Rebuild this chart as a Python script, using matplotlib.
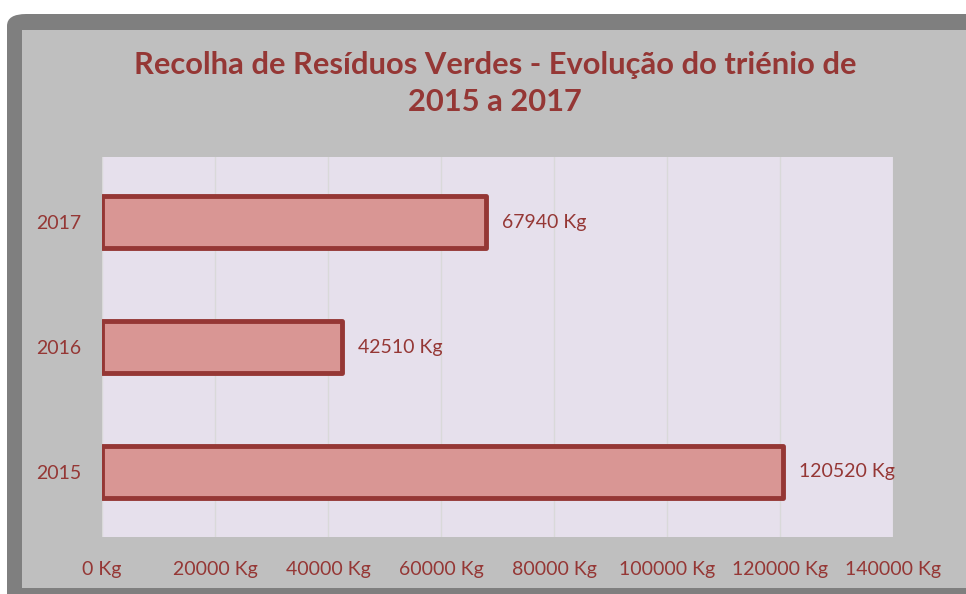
import matplotlib.pyplot as plt
from matplotlib.patches import FancyBboxPatch, Rectangle

plt.rcParams['font.family'] = ['Lato', 'DejaVu Sans']

# Data
years = ['2015', '2016', '2017']
recolha_kg = [120520, 42510, 67940]
x_ticks = [0, 20000, 40000, 60000, 80000, 100000, 120000, 140000]
x_tick_labels = [f'{v} Kg' for v in x_ticks]

red_dark = '#953735'
bar_fill = '#d99694'

fig = plt.figure(figsize=(9.66, 5.94), dpi=100)
fig.patch.set_facecolor('white')

# Frame: dark border with rounded corner and light gray inner area (pixel coords)
W, H = 966, 594
frame = FancyBboxPatch((7 / W, -0.1), 1.2, (594 - 14) / H + 0.1,
                       boxstyle='round,pad=0,rounding_size=0.02',
                       transform=fig.transFigure, facecolor='#7f7f7f',
                       edgecolor='none', zorder=0)
fig.patches.append(frame)
inner = Rectangle((22 / W, (594 - 588) / H), 1.0, (588 - 30) / H,
                  transform=fig.transFigure, facecolor='#bfbfbf',
                  edgecolor='none', zorder=0.5)
fig.patches.append(inner)

ax = fig.add_axes([102 / W, (594 - 537) / H, (893 - 102) / W, (537 - 157) / H])
ax.set_zorder(2)
ax.set_facecolor('#e6e0ec')

ypos = range(len(years))
ax.barh(ypos, recolha_kg, height=0.41, color=bar_fill, edgecolor=red_dark,
        linewidth=3.5, joinstyle='round', zorder=3)

for y, v in zip(ypos, recolha_kg):
    ax.annotate(f'{v} Kg', xy=(v, y), xytext=(11.5, 0), textcoords='offset points',
                va='center', ha='left', color=red_dark, fontsize=14, zorder=4)

ax.set_xlim(0, 140000)
ax.set_ylim(-0.52, 2.52)
ax.set_xticks(x_ticks)
ax.set_xticklabels(x_tick_labels)
ax.set_yticks(list(ypos))
ax.set_yticklabels(years)
ax.tick_params(axis='x', length=0, pad=17, labelsize=14, labelcolor=red_dark)
ax.tick_params(axis='y', length=0, pad=15, labelsize=14, labelcolor=red_dark)
ax.grid(axis='x', color='#d9d9d9', linewidth=1, zorder=1)
for s in ax.spines.values():
    s.set_visible(False)

fig.text(495 / W, 1 - 65 / H, 'Recolha de Resíduos Verdes - Evolução do triénio de',
         ha='center', va='center', fontsize=22.2, fontweight='bold', color=red_dark)
fig.text(495 / W, 1 - 102 / H, '2015 a 2017',
         ha='center', va='center', fontsize=22.2, fontweight='bold', color=red_dark)

fig.savefig('out.png', dpi=100, facecolor=fig.get_facecolor())
